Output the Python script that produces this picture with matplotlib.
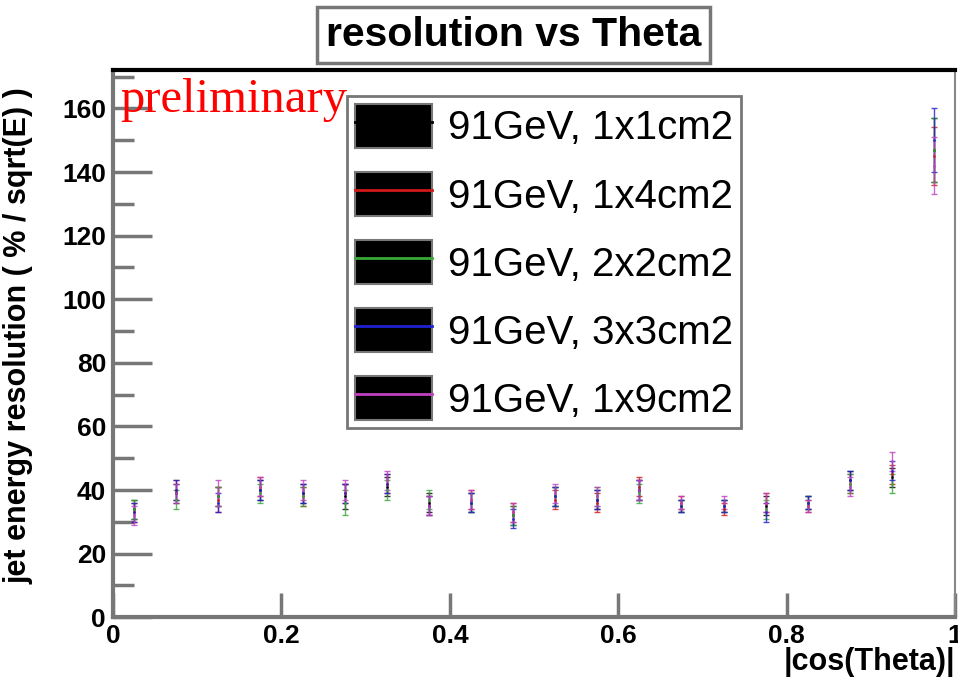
import matplotlib
matplotlib.use("Agg")
import matplotlib.pyplot as plt
from matplotlib.patches import Patch
from matplotlib.lines import Line2D
from matplotlib.ticker import MultipleLocator
import numpy as np

# bin centres in |cos(Theta)|
cos_theta = [0.025, 0.075, 0.125, 0.175, 0.225, 0.275, 0.325, 0.375, 0.425, 0.475,
             0.525, 0.575, 0.625, 0.675, 0.725, 0.775, 0.825, 0.875, 0.925, 0.975]

labels = ["91GeV, 1x1cm2", "91GeV, 1x4cm2", "91GeV, 2x2cm2", "91GeV, 3x3cm2", "91GeV, 1x9cm2"]

res_1x1 = [34, 39, 38, 40, 39, 38, 41, 36, 36, 32, 38, 37, 40, 35, 35, 35, 36, 43, 44, 147]
res_1x4 = [33, 40, 37, 41, 38, 39, 42, 35, 37, 33, 37, 36, 41, 36, 34, 36, 35, 42, 45, 145]
res_2x2 = [34, 37, 38, 39, 38, 36, 40, 37, 36, 32, 38, 38, 39, 35, 35, 34, 36, 42, 42, 147]
res_3x3 = [33, 40, 36, 40, 39, 39, 42, 35, 36, 31, 38, 37, 40, 35, 35, 33, 36, 43, 46, 150]
res_1x9 = [32, 39, 39, 41, 40, 40, 43, 35, 37, 33, 39, 38, 40, 36, 36, 36, 35, 41, 49, 142]

err_1x1 = [3, 3, 3, 3, 3, 4, 3, 3, 3, 3, 3, 3, 3, 2, 2, 3, 2, 3, 3, 10]
err_1x4 = [3, 3, 4, 3, 3, 3, 3, 3, 3, 3, 3, 3, 3, 2, 2, 3, 2, 3, 3, 9]
err_2x2 = [3, 3, 3, 3, 3, 4, 3, 3, 3, 3, 3, 3, 3, 2, 2, 3, 2, 3, 3, 10]
err_3x3 = [3, 3, 3, 3, 3, 3, 3, 3, 3, 3, 3, 3, 3, 2, 2, 3, 2, 3, 3, 10]
err_1x9 = [3, 3, 4, 3, 3, 3, 3, 3, 3, 3, 3, 3, 3, 2, 2, 3, 2, 3, 3, 9]

series = [res_1x1, res_1x4, res_2x2, res_3x3, res_1x9]
errors = [err_1x1, err_1x4, err_2x2, err_3x3, err_1x9]
colors = ["black", "#d01818", "#38a838", "#2020d0", "#c040c0"]

plt.rcParams["font.family"] = ["Liberation Sans", "DejaVu Sans"]

fig = plt.figure(figsize=(9.58, 6.82), dpi=100)
ax = fig.add_axes([0.118, 0.095, 0.879, 0.802])

for ys, es, c in zip(series, errors, colors):
    ax.errorbar(cos_theta, ys, yerr=es, fmt=".", color=c, ms=2, lw=1,
                capsize=2.5, capthick=1, alpha=0.8)

ax.set_xlim(0, 1)
ax.set_ylim(0, 172)
ax.xaxis.set_major_locator(MultipleLocator(0.2))
ax.yaxis.set_major_locator(MultipleLocator(20))
ax.yaxis.set_minor_locator(MultipleLocator(10))
ax.xaxis.set_major_formatter(plt.FuncFormatter(lambda v, p: "0" if v == 0 else ("1" if v == 1 else f"{v:g}")))

ax.tick_params(axis="y", which="major", direction="in", length=28, width=2.5, color="#777777",
               labelsize=19, pad=5)
ax.tick_params(axis="y", which="minor", direction="in", length=15, width=2.5, color="#777777")
ax.tick_params(axis="x", which="major", direction="in", length=17, width=2.5, color="#777777",
               labelsize=19, pad=5)
for lab in ax.get_xticklabels() + ax.get_yticklabels():
    lab.set_fontweight("bold")

for side in ["left", "bottom"]:
    ax.spines[side].set_color("#777777")
    ax.spines[side].set_linewidth(3)
ax.spines["top"].set_color("black")
ax.spines["top"].set_linewidth(3)
ax.spines["right"].set_color("#888888")
ax.spines["right"].set_linewidth(1.5)

ax.set_ylabel("jet energy resolution ( % / sqrt(E) )", fontsize=22, fontweight="bold")
ax.yaxis.set_label_coords(-0.095, 0.515)
ax.set_xlabel("|cos(Theta)|", fontsize=22, fontweight="bold")
ax.xaxis.set_label_coords(1.0, -0.055)
ax.xaxis.label.set_horizontalalignment("right")

# legend: black filled box with the series line through it
handles = [(Patch(facecolor="black", edgecolor="#777777", lw=1.5),
            Line2D([], [], color=c, lw=2)) for c in colors]
leg = ax.legend(handles, labels, loc="upper left", bbox_to_anchor=(0.278, 0.953),
                fontsize=29, handlelength=1.9, handleheight=1.3, labelspacing=0.6,
                handletextpad=0.4, borderpad=0.2, borderaxespad=0, fancybox=False,
                framealpha=1, edgecolor="#777777")
leg.get_frame().set_linewidth(2)

fig.text(0.536, 0.949, "resolution vs Theta", fontsize=29.5, fontweight="bold",
         ha="center", va="center",
         bbox=dict(boxstyle="square,pad=0.22", fc="white", ec="#777777", lw=2.5))

ax.text(0.008, 0.945, "preliminary", transform=ax.transAxes, color="red",
        fontsize=35, family="Liberation Serif", ha="left", va="center")

fig.savefig("out.png", dpi=100)
